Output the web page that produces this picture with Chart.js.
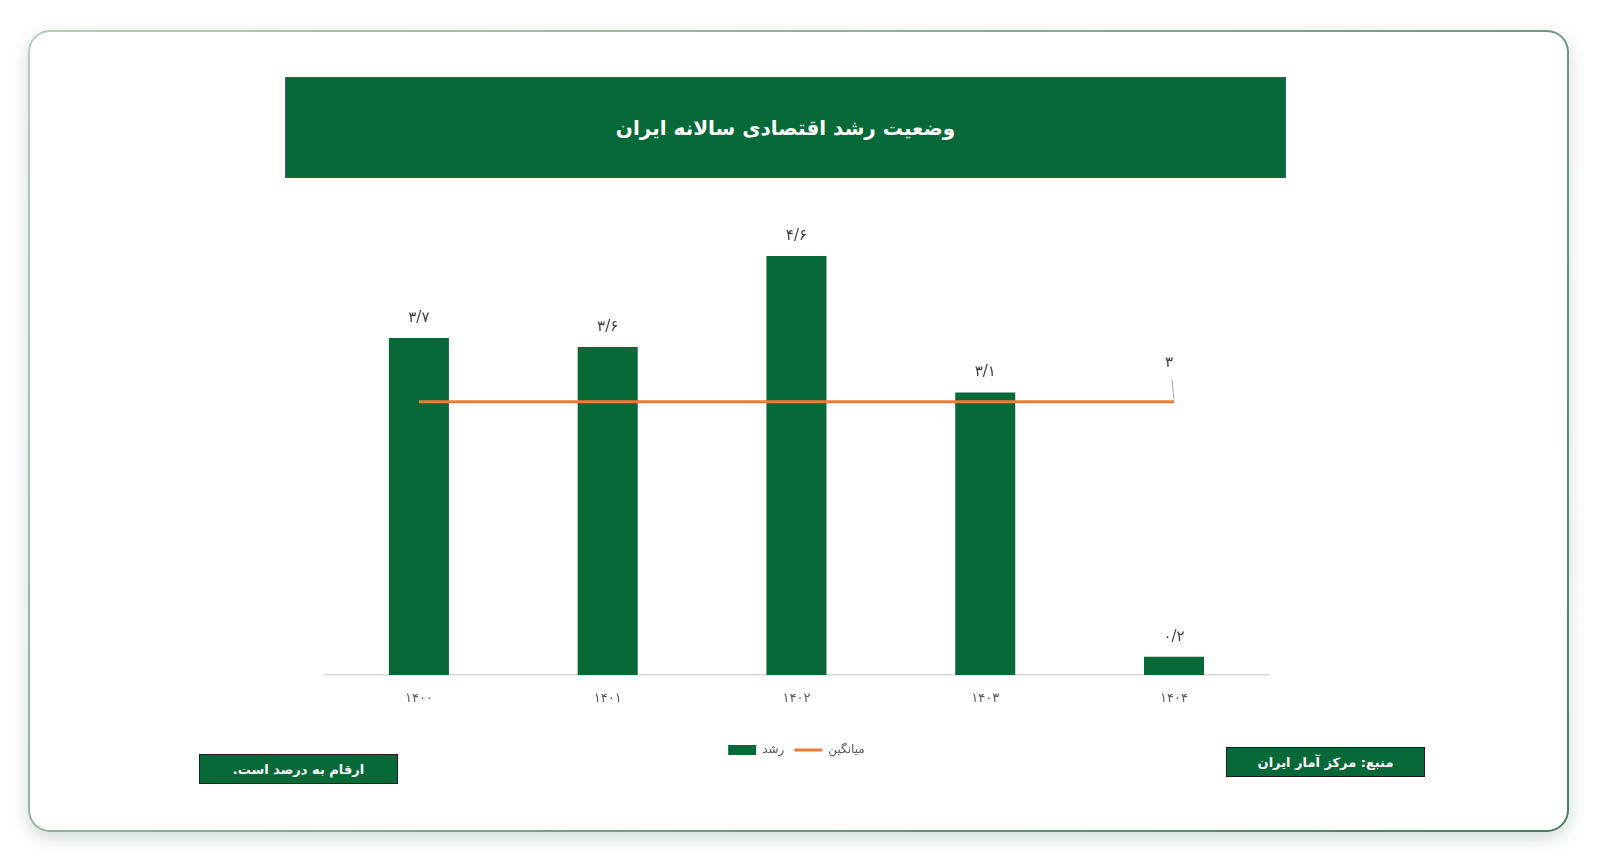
<!DOCTYPE html>
<html lang="fa">
<head>
<meta charset="utf-8">
<title>وضعیت رشد اقتصادی سالانه ایران</title>
<script src="https://cdn.jsdelivr.net/npm/chart.js@4"></script>
<style>
  html, body { margin: 0; padding: 0; background: #ffffff; }
  body { width: 1600px; height: 863px; position: relative; overflow: hidden; font-family: "DejaVu Sans", sans-serif; }
  .card {
    position: absolute; left: 28px; top: 30px; width: 1541px; height: 802px;
    box-sizing: border-box; border-radius: 22px;
    border: 2px solid transparent;
    background: linear-gradient(#fff, #fff) padding-box,
                linear-gradient(135deg, #b4cdbf, #47805f) border-box;
    box-shadow: 0 6px 18px rgba(70, 120, 90, 0.25);
  }
  .title {
    position: absolute; left: 285px; top: 77px; width: 1001px; height: 101px;
    box-sizing: border-box; background: #076938; border: 1.5px solid #34588a;
    color: #fff; font-weight: bold; font-size: 20px;
    display: flex; align-items: center; justify-content: center; direction: rtl;
  }
  .note {
    position: absolute; width: 199px; height: 30px; box-sizing: border-box;
    background: #076938; border: 1.5px solid #1c1c1c; color: #fff;
    font-weight: bold; font-size: 13px; direction: rtl;
    display: flex; align-items: center; justify-content: center;
  }
  #wrap { position: absolute; left: 300px; top: 200px; width: 1000px; height: 570px; }
</style>
</head>
<body>
<div class="card"></div>
<div class="title">وضعیت رشد اقتصادی سالانه ایران</div>
<div class="note" style="left:199px; top:754px;">ارقام به درصد است.</div>
<div class="note" style="left:1226px; top:747px;">منبع: مرکز آمار ایران</div>
<div id="wrap"><canvas id="growthChart"></canvas></div>

<script>
const years = ['۱۴۰۰', '۱۴۰۱', '۱۴۰۲', '۱۴۰۳', '۱۴۰۴'];
const growth = [3.7, 3.6, 4.6, 3.1, 0.2];
const average = [3, 3, 3, 3, 3];
const seriesNames = ['رشد', 'میانگین'];

const faDigits = '۰۱۲۳۴۵۶۷۸۹';
function toFa(v) {
    return String(v).replace(/\d/g, d => faDigits[d]).replace('.', '/');
}

// value labels above bars + label with leader line on the last average point
const valueLabels = {
    id: 'valueLabels',
    afterDatasetsDraw(chart) {
        const ctx = chart.ctx;
        ctx.save();
        ctx.font = '15px "DejaVu Sans"';
        ctx.fillStyle = '#404040';
        ctx.textAlign = 'center';
        ctx.textBaseline = 'middle';
        chart.getDatasetMeta(0).data.forEach((bar, i) => {
            ctx.fillText(toFa(growth[i]), bar.x, bar.y - 20);
        });
        const pts = chart.getDatasetMeta(1).data;
        const last = pts[pts.length - 1];
        ctx.fillText(toFa(average[average.length - 1]), last.x - 5, last.y - 39);
        ctx.strokeStyle = '#a6a6a6';
        ctx.lineWidth = 1;
        ctx.beginPath();
        ctx.moveTo(last.x - 2, last.y - 22);
        ctx.lineTo(last.x, last.y - 2);
        ctx.stroke();
        ctx.restore();
    }
};

const ctx = document.getElementById('growthChart').getContext('2d');
const growthChart = new Chart(ctx, {
    type: 'bar',
    data: {
        labels: years,
        datasets: [{
            label: seriesNames[0],
            data: growth,
            backgroundColor: '#076938',
            borderWidth: 0,
            categoryPercentage: 1,
            barPercentage: 0.318,
            order: 2
        }, {
            type: 'line',
            label: seriesNames[1],
            data: average,
            borderColor: '#ed7d31',
            backgroundColor: '#ed7d31',
            borderWidth: 3,
            pointRadius: 0,
            order: 1
        }]
    },
    options: {
        responsive: true,
        maintainAspectRatio: false,
        animation: false,
        layout: { padding: { left: 24.5, right: 31.6, top: 19.5, bottom: 4 } },
        scales: {
            x: {
                grid: { display: false },
                border: { color: '#d9d9d9', width: 1.5 },
                ticks: { padding: 8, color: '#595959', font: { family: 'DejaVu Sans', size: 13 } },
                afterFit: scale => { scale.height += 19.5; }
            },
            y: { display: false, min: 0, max: 5 }
        },
        plugins: {
            legend: {
                position: 'bottom',
                labels: {
                    usePointStyle: true,
                    pointStyleWidth: 28,
                    boxHeight: 10,
                    padding: 10,
                    color: '#595959',
                    font: { family: 'DejaVu Sans', size: 12 },
                    sort: (a, b) => a.datasetIndex - b.datasetIndex,
                    generateLabels(chart) {
                        const items = Chart.defaults.plugins.legend.labels.generateLabels(chart);
                        items.forEach(item => {
                            item.pointStyle = item.datasetIndex === 0 ? 'rect' : 'line';
                        });
                        return items;
                    }
                }
            },
            tooltip: { enabled: false }
        }
    },
    plugins: [valueLabels]
});
</script>
</body>
</html>
